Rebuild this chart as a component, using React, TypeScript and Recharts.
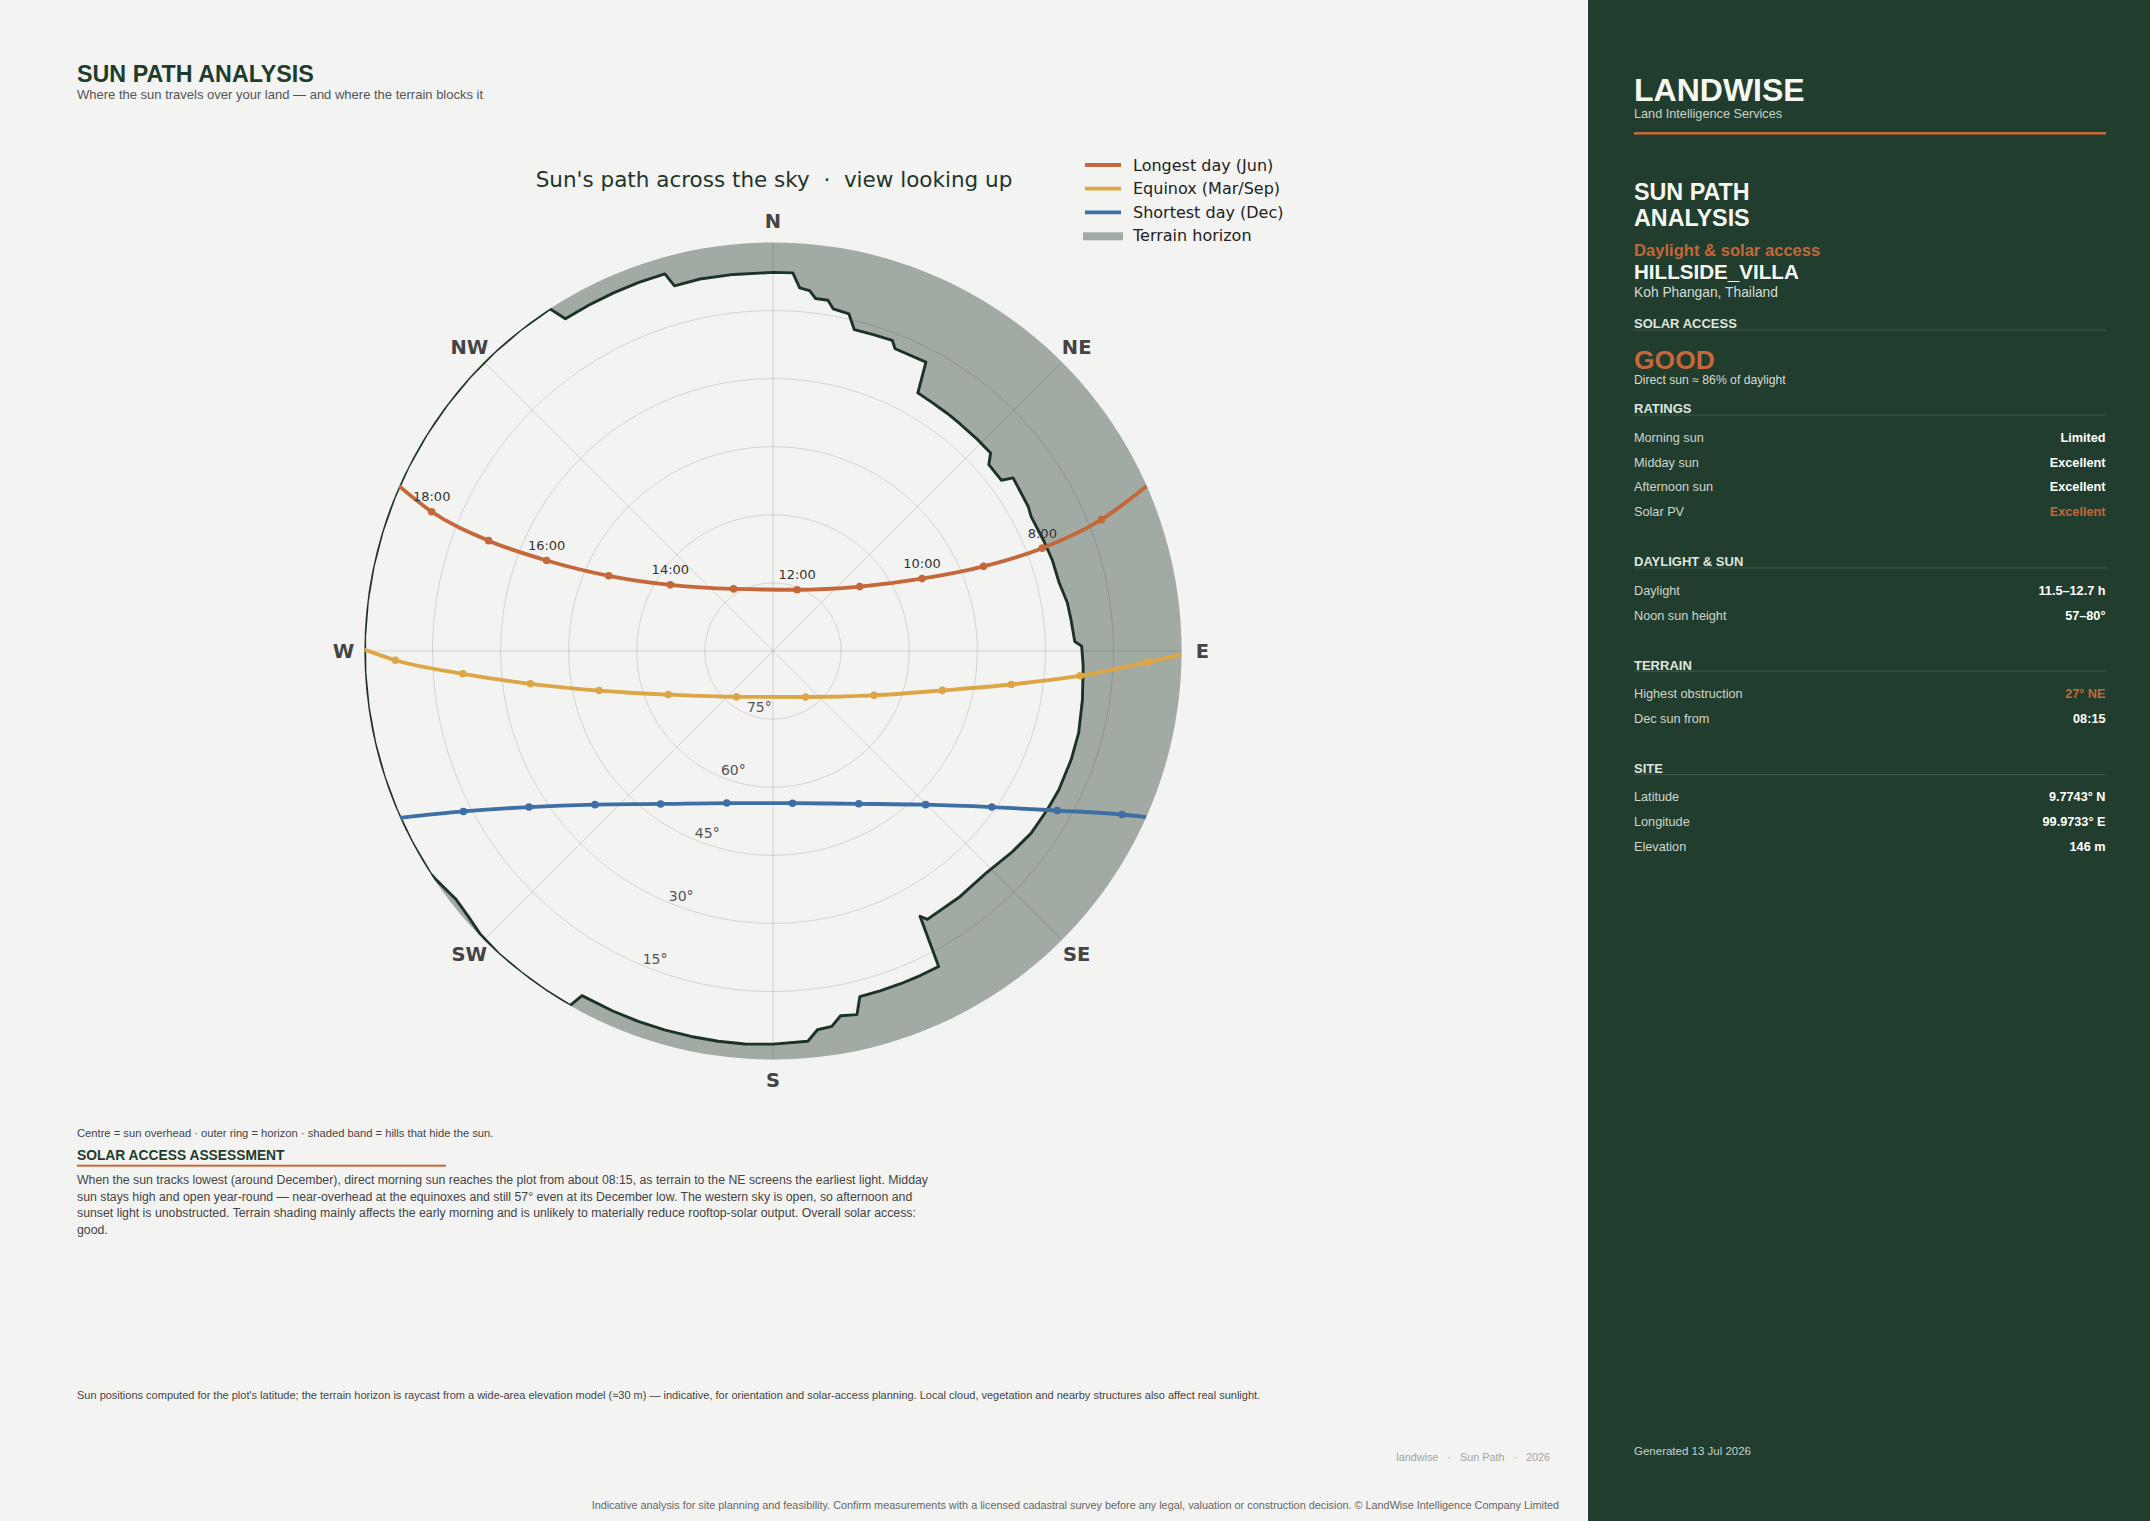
import React from "react";
import { ScatterChart, Scatter, XAxis, YAxis, Curve } from "recharts";

// sun positions: clock hour, azimuth (deg clockwise from N), altitude (deg)
const JUNE_HOURS = [7, 8, 9, 10, 11, 12, 13, 14, 15, 16, 17, 18];
const JUNE_AZ = [68.2, 69.1, 68.1, 64.1, 53.4, 21.5, 327.6, 302.8, 294.6, 291.8, 291.2, 292.2];
const JUNE_ALT = [12.1, 26.5, 40.0, 53.5, 66.2, 75.5, 73.8, 63.1, 50.2, 36.3, 22.8, 8.8];
const JUNE_RISE_SET_AZ = [66.2, 293.8];

const EQUINOX_HOURS = [7, 8, 9, 10, 11, 12, 13, 14, 15, 16, 17, 18];
const EQUINOX_AZ = [91.7, 94.6, 98.0, 103.1, 113.7, 144.8, 218.5, 247.4, 257.2, 262.3, 265.8, 268.6];
const EQUINOX_ALT = [7.4, 22.1, 37.0, 51.7, 65.7, 77.6, 77.1, 65.0, 50.7, 36.1, 21.5, 6.8];
const EQUINOX_RISE_SET_AZ = [90.5, 270.2];

const DEC_HOURS = [7, 8, 9, 10, 11, 12, 13, 14, 15, 16, 17];
const DEC_AZ = [115.1, 119.3, 125.5, 135.2, 150.7, 172.7, 196.9, 216.3, 229.2, 237.4, 242.6];
const DEC_ALT = [5.1, 18.2, 30.8, 42.3, 51.4, 56.2, 55.0, 48.2, 38.2, 26.2, 13.2];
const DEC_RISE_SET_AZ = [114.0, 245.9];

const LABELLED_HOURS = [8, 10, 12, 14, 16, 18];

// terrain horizon profile (azimuth, altitude)
const TERRAIN_AZ = [0, 3, 4.2, 5.8, 6.9, 8.9, 10, 12.7, 14.2, 17.6, 21, 22, 27.9, 29.3, 32.5, 36.2, 39.5, 44, 47.7, 49.2, 53.2, 54.2, 60.5, 62.5, 68, 72, 76.6, 80.7, 84, 88.2, 89.1, 92.8, 99, 105, 110, 115.9, 120, 125.2, 130, 136.2, 143, 150.1, 151, 152.3, 155.5, 159, 162.5, 165.9, 167, 169.5, 171.1, 173.3, 174.9, 180, 184.1, 188, 192, 196, 200, 204, 209, 209.8, 214, 218, 222, 226, 229, 232, 235.5, 237, 242, 247, 252, 257, 262, 267, 272, 277, 282, 287, 292, 297, 302, 307, 312, 317, 322, 326.9, 328, 332, 336, 340, 344, 344.9, 348.9, 354, 360];
const TERRAIN_ALT = [6.6, 6.6, 9.8, 10.2, 11.8, 11.8, 13.5, 13.9, 17, 16.9, 16.7, 18.2, 18, 24.8, 25, 25.1, 25.2, 25.2, 25.2, 27.2, 27.2, 24.8, 25.4, 25.9, 25.6, 25.3, 25.2, 24.3, 24, 23.5, 22, 21.6, 21, 20.3, 20.1, 20, 20.2, 20.4, 21.2, 22.2, 22, 21.8, 23.2, 11.5, 11.5, 11.5, 11.5, 11.5, 7.8, 8.3, 6.3, 6, 3.7, 3.4, 3.2, 3.2, 3.2, 3.2, 3.2, 3.2, 3.2, 0, 0, 0, 0, 0.3, 1, 1.3, 0.4, 0, 0, 0, 0, 0, 0, 0, 0, 0, 0, 0, 0, 0, 0, 0, 0, 0, 0, 0, 3.7, 3.7, 3.65, 3.6, 3.6, 6.7, 6.5, 6.6, 6.6];

const RING_ELEVATIONS = [15, 30, 45, 60, 75];
const SPOKE_AZ = [0, 45, 90, 135];
const COMPASS_LABELS = ["N", "NE", "E", "SE", "S", "SW", "W", "NW"];
const COMPASS_AZ = [0, 45, 90, 135, 180, 225, 270, 315];

const RATINGS = [
  ["Morning sun", "Limited"],
  ["Midday sun", "Excellent"],
  ["Afternoon sun", "Excellent"],
  ["Solar PV", "Excellent"],
];
const DAYLIGHT = [
  ["Daylight", "11.5–12.7 h"],
  ["Noon sun height", "57–80°"],
];
const TERRAIN_ROWS = [
  ["Highest obstruction", "27° NE"],
  ["Dec sun from", "08:15"],
];
const SITE = [
  ["Latitude", "9.7743° N"],
  ["Longitude", "99.9733° E"],
  ["Elevation", "146 m"],
];

const PARAGRAPH = [
  "When the sun tracks lowest (around December), direct morning sun reaches the plot from about 08:15, as terrain to the NE screens the earliest light. Midday",
  "sun stays high and open year-round — near-overhead at the equinoxes and still 57° even at its December low. The western sky is open, so afternoon and",
  "sunset light is unobstructed. Terrain shading mainly affects the early morning and is unlikely to materially reduce rooftop-solar output. Overall solar access:",
  "good.",
];

const ORANGE = "#c4673a";
const YELLOW = "#dca646";
const BLUE = "#3d6ea4";
const BAND = "#a2aba3";
const TERRAIN_LINE = "#1b3427";
const PAGE_BG = "#f3f3f1";
const PANEL_BG = "#213d2d";
const DARK_GREEN = "#1f3d2c";
const SANS = "'Liberation Sans', Arial, sans-serif";
const DEJAVU = "'DejaVu Sans', sans-serif";

const CX = 773.4;
const CY = 651.3;
const SIZE = 908;
const DOMAIN = 100;
const HORIZON_R = (SIZE / 2) * (90 / DOMAIN);

const toXY = (az: number, alt: number) => {
  const r = 90 - alt;
  const t = (az * Math.PI) / 180;
  return { x: r * Math.sin(t), y: r * Math.cos(t) };
};

function sunPath(hours: number[], az: number[], alt: number[], riseSet: number[]) {
  const pts: any[] = hours.map((h, i) => ({ ...toXY(az[i], alt[i]), hour: h }));
  riseSet.forEach((a) => pts.push({ ...toXY(a, 0), hour: null }));
  return pts.sort((a, b) => a.x - b.x);
}

const junePts = sunPath(JUNE_HOURS, JUNE_AZ, JUNE_ALT, JUNE_RISE_SET_AZ);
const equinoxPts = sunPath(EQUINOX_HOURS, EQUINOX_AZ, EQUINOX_ALT, EQUINOX_RISE_SET_AZ);
const decPts = sunPath(DEC_HOURS, DEC_AZ, DEC_ALT, DEC_RISE_SET_AZ);

const terrainPts = TERRAIN_AZ.map((a, i) => toXY(a, TERRAIN_ALT[i]));
const outerPts = Array.from({ length: 181 }, (_, k) => toXY(k * 2, 0));
const bandPts = [...outerPts, ...[...terrainPts].reverse()];
const ringPts = RING_ELEVATIONS.map((e) => Array.from({ length: 121 }, (_, k) => toXY(k * 3, e)));
const spokePts = SPOKE_AZ.map((a) => [toXY(a, 0), toXY(a + 180, 0)]);
const compassPts = COMPASS_LABELS.map((label, i) => ({ ...toXY(COMPASS_AZ[i], -4.6), label }));
const elevPts = RING_ELEVATIONS.map((e) => ({ ...toXY(202.5, e), label: `${e}°` }));

const NoShape = () => <g />;

// band fill also defines the circular clip used by the lines
const bandLine = (props: any) => (
  <g>
    <defs>
      <clipPath id="horizon-clip">
        <circle cx={SIZE / 2} cy={SIZE / 2} r={HORIZON_R} />
      </clipPath>
    </defs>
    <Curve points={props.points} type="linear" fill={BAND} stroke="none" />
  </g>
);

const clippedLine = (stroke: string, width: number, type: any) => (props: any) => (
  <g clipPath="url(#horizon-clip)">
    <Curve points={props.points} type={type} fill="none" stroke={stroke} strokeWidth={width} strokeLinejoin="round" />
  </g>
);

const markerShape = (color: string, withLabels: boolean) => (p: any) => {
  if (p.payload.hour == null) return <g />;
  return (
    <g>
      <circle cx={p.cx} cy={p.cy} r={3.8} fill={color} />
      {withLabels && LABELLED_HOURS.includes(p.payload.hour) && (
        <text x={p.cx} y={p.cy - 10.5} textAnchor="middle" fontFamily={DEJAVU} fontSize={13} fill="#333">
          {`${p.payload.hour}:00`}
        </text>
      )}
    </g>
  );
};

const compassShape = (p: any) => (
  <text x={p.cx} y={p.cy} textAnchor="middle" dominantBaseline="central" fontFamily={DEJAVU} fontWeight="bold" fontSize={19.5} fill="#444">
    {p.payload.label}
  </text>
);

const elevShape = (p: any) => (
  <text x={p.cx} y={p.cy - 1.5} textAnchor="start" fontFamily={DEJAVU} fontSize={14} fill="#555">
    {p.payload.label}
  </text>
);

const GRID = { stroke: "#000", strokeOpacity: 0.13, strokeWidth: 1 };

function SunPathChart() {
  return (
    <ScatterChart width={SIZE} height={SIZE} margin={{ top: 0, right: 0, bottom: 0, left: 0 }}>
      <XAxis type="number" dataKey="x" domain={[-DOMAIN, DOMAIN]} hide />
      <YAxis type="number" dataKey="y" domain={[-DOMAIN, DOMAIN]} hide />
      <Scatter data={bandPts} line={bandLine} shape={NoShape} isAnimationActive={false} />
      {ringPts.map((pts, i) => (
        <Scatter key={`ring${i}`} data={pts} line={GRID} lineJointType="linear" shape={NoShape} isAnimationActive={false} />
      ))}
      {spokePts.map((pts, i) => (
        <Scatter key={`spoke${i}`} data={pts} line={GRID} lineJointType="linear" shape={NoShape} isAnimationActive={false} />
      ))}
      <Scatter data={terrainPts} line={clippedLine(TERRAIN_LINE, 2.9, "linear")} shape={NoShape} isAnimationActive={false} />
      <Scatter data={junePts} line={clippedLine(ORANGE, 3.8, "monotoneX")} shape={markerShape(ORANGE, true)} isAnimationActive={false} />
      <Scatter data={equinoxPts} line={clippedLine(YELLOW, 3.8, "monotoneX")} shape={markerShape(YELLOW, false)} isAnimationActive={false} />
      <Scatter data={decPts} line={clippedLine(BLUE, 3.8, "monotoneX")} shape={markerShape(BLUE, false)} isAnimationActive={false} />
      <Scatter data={elevPts} shape={elevShape} isAnimationActive={false} />
      <Scatter data={compassPts} shape={compassShape} isAnimationActive={false} />
    </ScatterChart>
  );
}

function PanelRows({ rows, top, accent }: { rows: string[][]; top: number; accent?: number }) {
  return (
    <>
      {rows.map(([k, v], i) => (
        <g key={k}>
          <text x={1634} y={top + i * 24.8} fontSize={12.7} fill="#cfd6cf">{k}</text>
          <text x={2105.5} y={top + i * 24.8} fontSize={12.7} fontWeight="bold" textAnchor="end" fill={accent === i ? ORANGE : "#ffffff"}>{v}</text>
        </g>
      ))}
    </>
  );
}

function Heading({ label, y }: { label: string; y: number }) {
  return (
    <g>
      <text x={1634} y={y} fontSize={13} fontWeight="bold" fill="#dfe5df">{label}</text>
      <rect x={1634} y={y + 1.2} width={472} height={1} fill="#3e5c4a" />
    </g>
  );
}

const PRE = { whiteSpace: "pre" as const };

export default function App() {
  return (
    <div style={{ position: "absolute", left: 0, top: 0, width: 2150, height: 1521, background: PAGE_BG, overflow: "hidden" }}>
      <svg width={2150} height={1521} style={{ position: "absolute", left: 0, top: 0 }} fontFamily={SANS}>
        <rect x={0} y={0} width={2150} height={1521} fill={PAGE_BG} />
        <text x={77} y={81.5} fontSize={23.3} fontWeight="bold" fill={DARK_GREEN}>SUN PATH ANALYSIS</text>
        <text x={77} y={98.7} fontSize={13} fill="#555">Where the sun travels over your land — and where the terrain blocks it</text>

        <text x={774} y={187} fontFamily={DEJAVU} fontSize={21.5} textAnchor="middle" fill="#22352b" style={PRE}>Sun's path across the sky  ·  view looking up</text>

        <g fontFamily={DEJAVU} fontSize={16} fill="#222">
          <line x1={1085} x2={1121} y1={165} y2={165} stroke={ORANGE} strokeWidth={3.8} />
          <text x={1133} y={170.7}>Longest day (Jun)</text>
          <line x1={1085} x2={1121} y1={188.7} y2={188.7} stroke={YELLOW} strokeWidth={3.8} />
          <text x={1133} y={194.2}>Equinox (Mar/Sep)</text>
          <line x1={1085} x2={1121} y1={212.3} y2={212.3} stroke={BLUE} strokeWidth={3.8} />
          <text x={1133} y={217.8}>Shortest day (Dec)</text>
          <rect x={1083} y={232.3} width={40} height={8} fill={BAND} />
          <text x={1133} y={241.4}>Terrain horizon</text>
        </g>

        <text x={77} y={1137.3} fontSize={11.2} fill="#444">Centre = sun overhead · outer ring = horizon · shaded band = hills that hide the sun.</text>
        <text x={77} y={1160} fontSize={13.8} fontWeight="bold" fill={DARK_GREEN}>SOLAR ACCESS ASSESSMENT</text>
        <rect x={77} y={1164.7} width={369} height={2} fill={ORANGE} />
        {PARAGRAPH.map((line, i) => (
          <text key={i} x={77} y={1184 + i * 16.7} fontSize={12.3} fill="#444">{line}</text>
        ))}
        <text x={77} y={1399} fontSize={11} fill="#444">Sun positions computed for the plot's latitude; the terrain horizon is raycast from a wide-area elevation model (≈30 m) — indicative, for orientation and solar-access planning. Local cloud, vegetation and nearby structures also affect real sunlight.</text>
        <text x={1550} y={1461} fontSize={10.8} textAnchor="end" fill="#a3a3a3" style={PRE}>landwise   ·   Sun Path   ·   2026</text>
        <text x={1559} y={1509} fontSize={10.85} textAnchor="end" fill="#666">Indicative analysis for site planning and feasibility. Confirm measurements with a licensed cadastral survey before any legal, valuation or construction decision. © LandWise Intelligence Company Limited</text>

        <rect x={1588} y={0} width={562} height={1521} fill={PANEL_BG} />
        <text x={1634} y={100.7} fontSize={32} fontWeight="bold" fill="#f7f7f2">LANDWISE</text>
        <text x={1634} y={118} fontSize={12.7} fill="#c9d2ca">Land Intelligence Services</text>
        <rect x={1634} y={132} width={472} height={2.6} fill={ORANGE} />
        <text x={1634} y={200} fontSize={23.3} fontWeight="bold" fill="#f7f7f2">SUN PATH</text>
        <text x={1634} y={225.7} fontSize={23.3} fontWeight="bold" fill="#f7f7f2">ANALYSIS</text>
        <text x={1634} y={256} fontSize={16.6} fontWeight="bold" fill={ORANGE}>Daylight &amp; solar access</text>
        <text x={1634} y={279.3} fontSize={20.6} fontWeight="bold" fill="#f7f7f2">HILLSIDE_VILLA</text>
        <text x={1634} y={296.7} fontSize={13.8} fill="#d5dbd5">Koh Phangan, Thailand</text>

        <Heading label="SOLAR ACCESS" y={328.3} />
        <text x={1634} y={369.3} fontSize={26.5} fontWeight="bold" fill={ORANGE}>GOOD</text>
        <text x={1634} y={384} fontSize={12.2} fill="#d5dbd5">Direct sun ≈ 86% of daylight</text>

        <Heading label="RATINGS" y={413.3} />
        <PanelRows rows={RATINGS} top={441.8} accent={3} />
        <Heading label="DAYLIGHT & SUN" y={566.2} />
        <PanelRows rows={DAYLIGHT} top={594.8} />
        <Heading label="TERRAIN" y={669.5} />
        <PanelRows rows={TERRAIN_ROWS} top={697.8} accent={0} />
        <Heading label="SITE" y={772.8} />
        <PanelRows rows={SITE} top={801.2} />

        <text x={1634} y={1455} fontSize={11.5} fill="#c9d2ca">Generated 13 Jul 2026</text>
      </svg>
      <div style={{ position: "absolute", left: CX - SIZE / 2, top: CY - SIZE / 2, width: SIZE, height: SIZE }}>
        <SunPathChart />
      </div>
    </div>
  );
}
